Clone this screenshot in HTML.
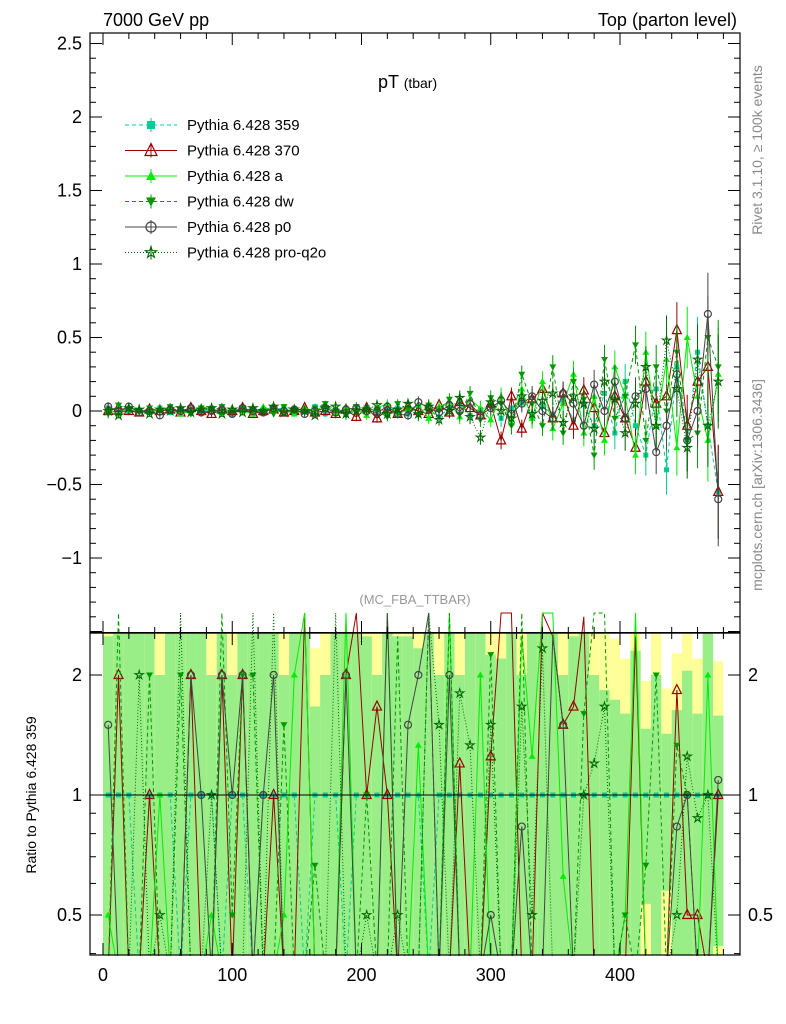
<!DOCTYPE html>
<html><head><meta charset="utf-8"><style>
body{margin:0;background:#fff;}
svg{display:block;font-family:"Liberation Sans",sans-serif;}
</style></head><body>
<svg id="c" width="786" height="1024"></svg>
<script>
const binCenters=[4,12,20,28,36,44,52,60,68,76,84,92,100,108,116,124,132,140,148,156,164,172,180,188,196,204,212,220,228,236,244,252,260,268,276,284,292,300,308,316,324,332,340,348,356,364,372,380,388,396,404,412,420,428,436,444,452,460,468,476];
const errs=[0.03,0.02,0.02,0.02,0.02,0.02,0.02,0.02,0.02,0.02,0.02,0.02,0.02,0.02,0.02,0.02,0.02,0.02,0.02,0.02,0.02,0.02,0.03,0.03,0.03,0.03,0.03,0.03,0.03,0.03,0.04,0.04,0.04,0.04,0.05,0.05,0.05,0.05,0.06,0.06,0.06,0.07,0.07,0.08,0.08,0.09,0.09,0.1,0.1,0.11,0.12,0.13,0.14,0.15,0.17,0.19,0.21,0.24,0.28,0.32];
const s359=[0.02,0.01,-0.01,0.0,0.01,0.02,-0.01,0.0,0.01,-0.01,0.02,0.0,-0.02,0.01,0.0,-0.01,0.01,0.02,-0.01,0.0,0.03,-0.02,0.01,0.0,-0.01,0.02,-0.03,0.01,0.02,-0.02,0.03,0.0,-0.04,0.02,0.05,-0.03,0.01,0.04,-0.05,0.02,0.06,-0.04,0.03,-0.02,0.08,-0.06,0.05,-0.1,0.12,-0.15,0.2,-0.1,-0.3,0.15,-0.4,0.3,-0.2,0.4,-0.1,-0.55];
const s370=[0.0,0.02,0.0,-0.01,0.01,0.0,0.01,-0.01,0.02,0.0,-0.02,0.01,0.0,0.02,-0.02,0.0,0.01,-0.01,0.0,0.02,-0.01,0.0,-0.02,0.01,-0.04,0.02,-0.05,0.01,-0.02,0.03,0.0,-0.02,0.04,-0.01,0.06,0.02,-0.03,0.05,-0.2,0.1,-0.12,0.08,0.15,-0.05,0.12,-0.1,0.14,0.02,-0.15,0.1,-0.05,-0.25,0.2,0.05,0.1,0.55,-0.1,0.2,0.3,-0.55];
const sA=[0.01,-0.02,0.03,0.0,-0.01,0.02,0.01,-0.02,0.0,0.03,0.01,-0.01,0.02,0.0,-0.02,0.03,0.0,0.01,-0.02,0.02,0.0,0.04,-0.01,0.02,0.01,-0.03,0.02,0.05,-0.02,0.01,0.04,-0.05,0.03,0.06,-0.04,0.08,0.02,-0.06,0.1,-0.08,0.15,-0.05,0.2,-0.12,0.05,0.25,-0.15,0.1,-0.2,0.3,0.1,-0.3,0.4,-0.1,0.35,-0.25,0.5,0.1,-0.2,0.25];
const sDW=[-0.02,0.04,0.01,-0.01,0.02,0.0,0.03,0.01,-0.02,0.02,0.0,0.03,-0.01,0.02,0.01,0.0,-0.02,0.03,0.01,-0.01,0.02,0.05,0.0,-0.03,0.03,0.02,0.0,-0.04,0.05,0.01,-0.03,0.04,0.0,0.08,-0.02,0.12,-0.06,0.09,0.05,-0.1,0.25,0.05,-0.1,0.3,-0.15,0.2,0.08,-0.3,0.35,-0.05,0.1,0.45,-0.2,0.3,0.0,0.4,-0.2,-0.15,0.5,0.3];
const sP0=[0.03,0.0,0.03,-0.01,0.0,-0.03,0.01,0.0,0.02,-0.01,0.0,0.01,-0.02,0.02,0.0,-0.01,0.02,0.0,0.01,-0.02,0.0,0.02,-0.01,0.01,0.02,0.0,-0.01,0.03,-0.02,-0.03,0.06,0.02,-0.01,0.04,0.0,0.05,-0.03,0.02,0.07,-0.02,0.05,0.1,0.0,-0.05,0.12,0.05,-0.1,0.18,0.0,0.2,-0.05,0.1,0.15,-0.28,-0.1,0.25,-0.2,0.0,0.66,-0.6];
const sPQ=[0.0,-0.03,0.02,0.01,-0.02,0.01,0.0,0.02,-0.01,0.01,0.02,-0.02,0.01,-0.01,0.02,0.0,0.03,-0.01,0.01,0.0,-0.03,0.02,0.03,-0.02,0.0,0.01,0.04,-0.02,0.01,0.05,-0.02,0.03,-0.06,0.0,0.09,-0.04,-0.18,0.06,0.0,-0.05,0.1,-0.02,0.07,0.12,-0.08,0.1,0.05,-0.12,0.2,0.08,-0.15,0.05,0.3,-0.1,0.48,0.15,-0.25,0.35,-0.1,0.2];
const series=[
{name:'Pythia 6.428 359',v:s359,c:'#00cc99',dash:'4,3',m:'sq',id:'359'},
{name:'Pythia 6.428 370',v:s370,c:'#990000',dash:'',m:'tri-open',id:'370'},
{name:'Pythia 6.428 a',v:sA,c:'#00ee00',dash:'',m:'tri',id:'a'},
{name:'Pythia 6.428 dw',v:sDW,c:'#009900',dash:'4,3',m:'itri',id:'dw'},
{name:'Pythia 6.428 p0',v:sP0,c:'#444444',dash:'',m:'circ',id:'p0'},
{name:'Pythia 6.428 pro-q2o',v:sPQ,c:'#006600',dash:'1,2',m:'star',id:'pro-q2o'}];
const xTicks=[0,100,200,300,400];
const yTicks=[-1,-0.5,0,0.5,1,1.5,2,2.5];
const rTicks=[0.5,1,2];

const NS='http://www.w3.org/2000/svg',svg=document.getElementById('c');
function mk(t,a,p){const e=document.createElementNS(NS,t);for(const k in a)e.setAttribute(k,a[k]);(p||svg).appendChild(e);return e;}
const L=90,R=740,T=33,M=633,B=955;
const X=v=>103+v*1.2925;
const Y=v=>411-v*147;
const YR=v=>v<=0?B+100:795-Math.log2(v)*120;
const clipY=(y,a,b)=>Math.max(a,Math.min(b,y));

const gB=mk('g',{});
binCenters.forEach((x,i)=>{const r=errs[i]/Math.max(Math.abs(s359[i]),0.005);
 const y1=clipY(YR(1+2*r),M,B),y2=clipY(YR(1-2*r),M,B),g1=clipY(YR(1+r),M,B),g2=clipY(YR(1-r),M,B);
 mk('rect',{x:X(x-4),y:y1,width:1.2925*8,height:y2-y1,fill:'#ffff99'},gB);
 mk('rect',{x:X(x-4),y:g1,width:1.2925*8,height:g2-g1,fill:'#99ee88'},gB);});

function marker(g,m,x,y,c,s){s=s||4;
 if(m==='sq')mk('rect',{x:x-s+1,y:y-s+1,width:2*s-2,height:2*s-2,fill:c},g);
 else if(m==='tri-open')mk('polygon',{points:`${x},${y-s-2} ${x-s-1},${y+s} ${x+s+1},${y+s}`,fill:'none',stroke:c,'stroke-width':1.2},g);
 else if(m==='tri')mk('polygon',{points:`${x},${y-s} ${x-s},${y+s-1} ${x+s},${y+s-1}`,fill:c},g);
 else if(m==='itri')mk('polygon',{points:`${x},${y+s} ${x-s},${y-s+1} ${x+s},${y-s+1}`,fill:c},g);
 else if(m==='circ')mk('circle',{cx:x,cy:y,r:s,fill:'none',stroke:c,'stroke-width':1.2},g);
 else {let p=[];for(let k=0;k<10;k++){const a=-Math.PI/2+k*Math.PI/5,rr=k%2?s*0.45:s+1;p.push((x+rr*Math.cos(a)).toFixed(1)+','+(y+rr*Math.sin(a)).toFixed(1));}
  mk('polygon',{points:p.join(' '),fill:'none',stroke:c,'stroke-width':1},g);}
}
series.forEach(s=>{const g=mk('g',{});
 
 
 let pts=binCenters.map((x,i)=>X(x)+','+Y(s.v[i])).join(' ');
 mk('polyline',{points:pts,fill:'none',stroke:s.c,'stroke-width':1,'stroke-dasharray':s.dash},g);
 binCenters.forEach((x,i)=>{const e=errs[i];mk('line',{x1:X(x),x2:X(x),y1:Y(s.v[i]+e),y2:Y(s.v[i]-e),stroke:s.c,'stroke-width':1},g);marker(g,s.m,X(x),Y(s.v[i]),s.c,3.5);});
 const gr=mk('g',{});
 
 
 const rv=binCenters.map((x,i)=>s.v[i]/(Math.abs(s359[i])<0.005?0.005:s359[i]));
 mk('polyline',{points:binCenters.map((x,i)=>X(x)+','+clipY(YR(rv[i]),M-20,B+20)).join(' '),fill:'none',stroke:s.c,'stroke-width':1,'stroke-dasharray':s.dash},gr);
 binCenters.forEach((x,i)=>{const y=YR(rv[i]);if(y>M+4&&y<B-4)marker(gr,s.m,X(x),y,s.c,3.5);});
});
mk('rect',{x:0,y:B+1,width:786,height:69,fill:'#fff'});
mk('rect',{x:L,y:M-1,width:R-L,height:1,fill:'#000'});
mk('line',{x1:L,x2:R,y1:YR(1),y2:YR(1),stroke:'#000','stroke-width':1});
mk('rect',{x:L,y:T,width:R-L,height:M-T,fill:'none',stroke:'#000','stroke-width':1.2});
mk('rect',{x:L,y:M,width:R-L,height:B-M,fill:'none',stroke:'#000','stroke-width':1.2});
function txt(x,y,t,o){const e=mk('text',Object.assign({x:x,y:y,'font-size':18},o||{}));e.textContent=t;return e;}
for(let v=0;v<=480;v+=20){const maj=v%100===0,len=maj?12:6;
 mk('line',{x1:X(v),x2:X(v),y1:T,y2:T+len,stroke:'#000'});
 mk('line',{x1:X(v),x2:X(v),y1:M-len,y2:M,stroke:'#000'});
 mk('line',{x1:X(v),x2:X(v),y1:M,y2:M+len,stroke:'#000'});
 mk('line',{x1:X(v),x2:X(v),y1:B-len,y2:B,stroke:'#000'});}
xTicks.forEach(v=>{const t=txt(X(v),981,v,{'text-anchor':'middle'});});
for(let v=-1.5;v<=2.55;v+=0.1){const y=Y(v);if(y<T||y>M)continue;const maj=Math.abs(v*2-Math.round(v*2))<0.01,len=maj?12:6;
 mk('line',{x1:L,x2:L+len,y1:y,y2:y,stroke:'#000'});mk('line',{x1:R-len,x2:R,y1:y,y2:y,stroke:'#000'});}
yTicks.forEach(v=>{const t=txt(82,Y(v)+6,v<0?'\u2212'+(-v):v,{'text-anchor':'end'});});
rTicks.forEach(v=>{const y=YR(v);mk('line',{x1:L,x2:L+12,y1:y,y2:y,stroke:'#000'});mk('line',{x1:R-12,x2:R,y1:y,y2:y,stroke:'#000'});
 const t=txt(82,y+6,v,{'text-anchor':'end'});
 const t2=txt(748,y+6,v);});
[0.4,0.6,0.7,0.8,0.9].forEach(v=>{const y=YR(v);mk('line',{x1:L,x2:L+6,y1:y,y2:y,stroke:'#000'});mk('line',{x1:R-6,x2:R,y1:y,y2:y,stroke:'#000'});});
let t;
t=txt(103,26,'7000 GeV pp');
t=txt(737,26,'Top (parton level)',{'text-anchor':'end'});
t=mk('text',{x:378,y:88,'font-size':18});t.innerHTML='pT <tspan font-size="14">(tbar)</tspan>';
t=txt(415,604,'(MC_FBA_TTBAR)',{'text-anchor':'middle','font-size':13,fill:'#999'});
t=txt(0,0,'Rivet 3.1.10, \u2265 100k events',{'font-size':14,fill:'#888',transform:'translate(762,150) rotate(-90)','text-anchor':'middle'});
t=txt(0,0,'mcplots.cern.ch [arXiv:1306.3436]',{'font-size':14,fill:'#888',transform:'translate(762,485) rotate(-90)','text-anchor':'middle'});
t=txt(0,0,'Ratio to Pythia 6.428 359',{'font-size':14,transform:'translate(36,795) rotate(-90)','text-anchor':'middle'});
series.forEach((s,i)=>{const g=mk('g',{});
 
 
 const y=125+i*25.5;
 mk('line',{x1:125,x2:177,y1:y,y2:y,stroke:s.c,'stroke-dasharray':s.dash},g);
 mk('line',{x1:151,x2:151,y1:y-7,y2:y+7,stroke:s.c},g);
 marker(g,s.m,151,y,s.c,5);
 const tt=mk('text',{x:187,y:y+5,'font-size':15},g);tt.textContent=s.name;});
</script>
</body></html>
